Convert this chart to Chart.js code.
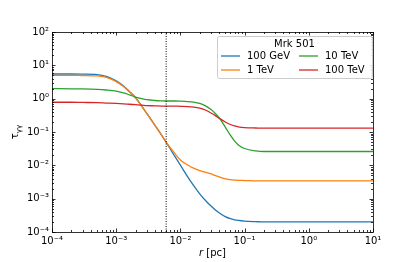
<!DOCTYPE html>
<html>
<head>
<meta charset="utf-8">
<script src="https://cdn.jsdelivr.net/npm/chart.js@4/dist/chart.umd.min.js"></script>
<style>
  body { margin: 0; background: #fff; }
  #wrap { width: 415px; height: 262px; }
</style>
</head>
<body>
<div id="wrap"><canvas id="chart"></canvas></div>
<script>
// radius in pc
const rPc = [1e-4, 2e-4, 3e-4, 5e-4, 7e-4, 1e-3, 1.3e-3, 1.6e-3, 2e-3, 2.5e-3, 3e-3, 4e-3, 5e-3, 6e-3, 8e-3,
  1e-2, 1.3e-2, 1.6e-2, 2e-2, 2.5e-2, 3e-2, 3.5e-2, 4e-2, 5e-2, 6e-2, 7e-2, 8e-2, 1e-1, 1.5e-1, 2e-1, 5e-1, 1, 2, 5, 10];

const tau100GeV = [5.5, 5.5, 5.45, 5.3, 4.7, 3.45, 2.4, 1.65, 1.08, 0.6, 0.36, 0.16, 0.085, 0.049, 0.020,
  0.0102, 0.0045, 0.0025, 0.0014, 0.00085, 0.0006, 0.00046, 0.00038, 0.00029, 0.00025, 0.000232, 0.000222, 0.000212, 0.000204, 0.0002, 0.0002, 0.0002, 0.0002, 0.0002, 0.0002];
const tau1TeV = [5.0, 5.0, 4.95, 4.85, 4.35, 3.25, 2.3, 1.6, 1.05, 0.59, 0.355, 0.16, 0.085, 0.05, 0.024,
  0.0145, 0.0102, 0.0082, 0.0069, 0.0061, 0.0055, 0.0049, 0.0045, 0.0039, 0.0037, 0.0036, 0.00355, 0.0035, 0.0034, 0.0034, 0.0034, 0.0034, 0.0034, 0.0034, 0.0034];
const tau10TeV = [2.0, 1.98, 1.96, 1.9, 1.82, 1.68, 1.48, 1.3, 1.12, 1.0, 0.93, 0.88, 0.86, 0.85, 0.85,
  0.84, 0.82, 0.79, 0.72, 0.6, 0.47, 0.36, 0.27, 0.14, 0.08, 0.053, 0.041, 0.032, 0.027, 0.026, 0.026, 0.026, 0.026, 0.026, 0.026];
const tau100TeV = [0.78, 0.78, 0.77, 0.76, 0.74, 0.72, 0.70, 0.68, 0.66, 0.64, 0.62, 0.61, 0.60, 0.60, 0.60,
  0.59, 0.58, 0.56, 0.52, 0.45, 0.37, 0.31, 0.26, 0.2, 0.168, 0.152, 0.143, 0.136, 0.132, 0.13, 0.13, 0.13, 0.13, 0.13, 0.13];

const seriesLabels = ['100 GeV', '1 TeV', '10 TeV', '100 TeV'];
const seriesColors = ['#1f77b4', '#ff7f0e', '#2ca02c', '#d62728'];
const legendTitle = 'Mrk 501';

const markerR = 6e-3;       // dotted line
const xTicks = [1e-4, 1e-3, 1e-2, 1e-1, 1, 10];
const yTicks = [1e-4, 1e-3, 1e-2, 1e-1, 1, 10, 100];

const sup = { '-': '⁻', '0': '⁰', '1': '¹', '2': '²', '3': '³', '4': '⁴' };
function decadeLabel(v) {
  const e = String(Math.round(Math.log10(v)));
  return '10' + e.split('').map(c => sup[c]).join('');
}

Chart.defaults.font.family = 'DejaVu Sans';
Chart.defaults.font.size = 10;
Chart.defaults.color = '#000';

const allTau = [tau100GeV, tau1TeV, tau10TeV, tau100TeV];
const datasets = allTau.map((arr, k) => ({
  label: seriesLabels[k],
  data: rPc.map((r, i) => ({ x: r, y: arr[i] })),
  borderColor: seriesColors[k],
  borderWidth: 1.3,
  pointRadius: 0,
  cubicInterpolationMode: 'monotone',
  order: 4 - k
}));
datasets.push({
  label: 'marker',
  data: [{ x: markerR, y: 1e-4 }, { x: markerR, y: 1e2 }],
  borderColor: '#000',
  borderWidth: 1,
  borderDash: [1, 1.5],
  pointRadius: 0,
  order: 0
});

// inward ticks, frame, axis titles and boxed legend
const framePlugin = {
  id: 'frame',
  afterDraw(chart) {
    const { ctx, chartArea: a, scales } = chart;
    ctx.save();
    ctx.strokeStyle = '#000';
    ctx.lineWidth = 0.8;
    const tick = (scale, horiz) => {
      const lo = Math.round(Math.log10(scale.min)), hi = Math.round(Math.log10(scale.max));
      for (let k = lo; k <= hi; k++) {
        for (let m = 1; m <= 9; m++) {
          const v = m * Math.pow(10, k);
          if (v > scale.max * 1.0001) break;
          const p = Math.round(scale.getPixelForValue(v)) + 0.5;
          const len = m === 1 ? 3.5 : 2;
          ctx.beginPath();
          if (horiz) {
            ctx.moveTo(p, a.bottom); ctx.lineTo(p, a.bottom - len);
            ctx.moveTo(p, a.top); ctx.lineTo(p, a.top + len);
          } else {
            ctx.moveTo(a.left, p); ctx.lineTo(a.left + len, p);
            ctx.moveTo(a.right, p); ctx.lineTo(a.right - len, p);
          }
          ctx.stroke();
        }
      }
    };
    tick(scales.x, true);
    tick(scales.y, false);
    ctx.strokeRect(Math.round(a.left) + 0.5, Math.round(a.top) + 0.5,
      Math.round(a.right - a.left), Math.round(a.bottom - a.top));

    ctx.fillStyle = '#000';
    ctx.textBaseline = 'alphabetic';

    // x title: italic r [pc]
    const cx = (a.left + a.right) / 2;
    ctx.font = 'italic 10px "DejaVu Sans"';
    const wr = ctx.measureText('r').width;
    ctx.font = '10px "DejaVu Sans"';
    const wp = ctx.measureText(' [pc]').width;
    const x0 = cx - (wr + wp) / 2;
    ctx.textAlign = 'left';
    ctx.font = 'italic 10px "DejaVu Sans"';
    ctx.fillText('r', x0, 256);
    ctx.font = '10px "DejaVu Sans"';
    ctx.fillText(' [pc]', x0 + wr, 256);

    // y title: tau with gamma-gamma subscript
    ctx.save();
    ctx.translate(18, (a.top + a.bottom) / 2);
    ctx.rotate(-Math.PI / 2);
    ctx.font = '10px "DejaVu Sans"';
    const wt = ctx.measureText('τ').width;
    ctx.font = '7px "DejaVu Sans"';
    const wg = ctx.measureText('γγ').width;
    const t0 = -(wt + wg) / 2;
    ctx.font = '10px "DejaVu Sans"';
    ctx.fillText('τ', t0, 0);
    ctx.font = '7px "DejaVu Sans"';
    ctx.fillText('γγ', t0 + wt, 2.5);
    ctx.restore();

    // legend
    const bx = a.right - 156, by = a.top + 4, bw = 155, bh = 42;
    ctx.fillStyle = 'rgba(255,255,255,0.85)';
    ctx.strokeStyle = '#cccccc';
    ctx.lineWidth = 1;
    ctx.beginPath();
    ctx.roundRect(bx + 0.5, by + 0.5, bw, bh, 2);
    ctx.fill();
    ctx.stroke();
    ctx.fillStyle = '#000';
    ctx.font = '10px "DejaVu Sans"';
    ctx.textBaseline = 'middle';
    ctx.textAlign = 'center';
    ctx.fillText(legendTitle, bx + bw / 2, by + 8);
    ctx.textAlign = 'left';
    const cols = [bx + 4, bx + 82];
    const rows = [by + 20, by + 34];
    const place = [[0, 0], [0, 1], [1, 0], [1, 1]];
    seriesLabels.forEach((lab, k) => {
      const lx = cols[place[k][0]], ly = rows[place[k][1]];
      ctx.strokeStyle = seriesColors[k];
      ctx.lineWidth = 1.3;
      ctx.beginPath();
      ctx.moveTo(lx, ly); ctx.lineTo(lx + 19, ly);
      ctx.stroke();
      ctx.fillText(lab, lx + 26, ly);
    });
    ctx.restore();
  }
};

new Chart(document.getElementById('chart'), {
  type: 'line',
  data: { datasets },
  options: {
    responsive: true,
    maintainAspectRatio: false,
    animation: false,
    layout: { padding: { left: 0, top: 32, right: 42, bottom: 0 } },
    plugins: { legend: { display: false }, tooltip: { enabled: false } },
    scales: {
      x: {
        type: 'logarithmic',
        min: 1e-4, max: 10,
        grid: { display: false, drawTicks: false },
        border: { display: false },
        afterBuildTicks: s => { s.ticks = xTicks.map(v => ({ value: v })); },
        afterFit: s => { s.height = 30; },
        ticks: { autoSkip: false, maxRotation: 0, padding: 3, callback: v => decadeLabel(v) }
      },
      y: {
        type: 'logarithmic',
        min: 1e-4, max: 100,
        grid: { display: false, drawTicks: false },
        border: { display: false },
        afterBuildTicks: s => { s.ticks = yTicks.map(v => ({ value: v })); },
        afterFit: s => { s.width = 52; },
        ticks: { autoSkip: false, padding: 3, callback: v => decadeLabel(v) }
      }
    }
  },
  plugins: [framePlugin]
});
</script>
</body>
</html>
